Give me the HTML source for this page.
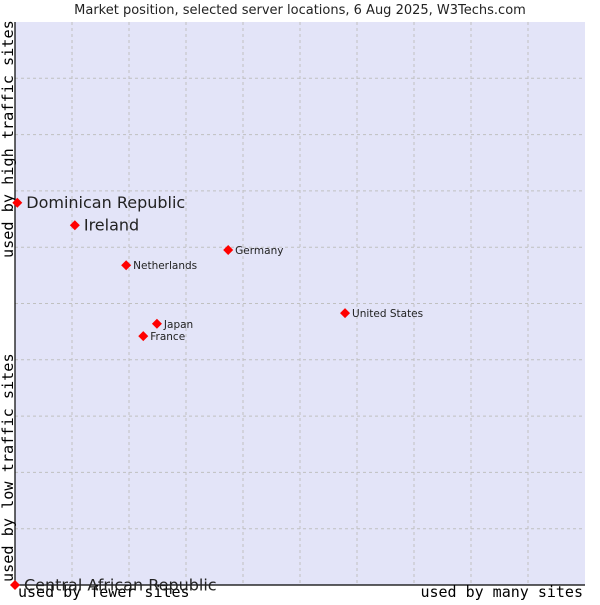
<!DOCTYPE html>
<html><head><meta charset="utf-8"><style>
body{margin:0;background:#fff;width:600px;height:600px;overflow:hidden}
svg text{font-family:"DejaVu Sans","Liberation Sans",sans-serif}
.mono{font-family:"DejaVu Sans Mono","Liberation Mono",monospace}
</style></head><body>
<svg id="chart" width="600" height="600" xmlns="http://www.w3.org/2000/svg">
<text x="300" y="14" text-anchor="middle" font-size="13" fill="#222">Market position, selected server locations, 6 Aug 2025, W3Techs.com</text>
<rect x="15" y="22" width="570" height="563" fill="#e3e4f8"/>
<g id="grid"></g>
<path d="M15 22V585H585" fill="none" stroke="#000" stroke-width="1.2"/>
<text class="mono" x="0" y="0" transform="translate(13,258) rotate(-90)" font-size="15.2" fill="#000">used by high traffic sites</text>
<text class="mono" x="0" y="0" transform="translate(13,582) rotate(-90)" font-size="15.2" fill="#000">used by low traffic sites</text>
<text class="mono" x="18" y="597" font-size="15" fill="#000">used by fewer sites</text>
<text class="mono" x="583" y="597" text-anchor="end" font-size="15" fill="#000">used by many sites</text>
<g id="points"></g>
</svg>
<script>
const countries=["Dominican Republic","Ireland","Netherlands","Germany","United States","Japan","France","Central African Republic"];
const xValues=[0.04,1.05,1.95,3.74,5.79,2.49,2.25,0];
const yValues=[6.79,6.39,5.68,5.95,4.83,4.64,4.42,0];
const bigLabel=[1,1,0,0,0,0,0,1];
const X0=15,X1=585,Y0=585,Y1=22;
function sx(v){return X0+(X1-X0)*v/10;}
function sy(v){return Y0-(Y0-Y1)*v/10;}
const NS="http://www.w3.org/2000/svg";
const grid=document.getElementById('grid');
for(let i=1;i<10;i++){
  const v=document.createElementNS(NS,'line');
  
  
  v.setAttribute('x1',sx(i));v.setAttribute('x2',sx(i));v.setAttribute('y1',Y1);v.setAttribute('y2',Y0);
  v.setAttribute('stroke','#c0c0c0');v.setAttribute('stroke-dasharray','3,3');
  grid.appendChild(v);
  const h=document.createElementNS(NS,'line');
  
  
  h.setAttribute('y1',sy(i));h.setAttribute('y2',sy(i));h.setAttribute('x1',X0);h.setAttribute('x2',X1);
  h.setAttribute('stroke','#c0c0c0');h.setAttribute('stroke-dasharray','3,3');
  grid.appendChild(h);
}
const pts=document.getElementById('points');
countries.forEach((c,i)=>{
  const x=sx(xValues[i]),y=sy(yValues[i]);
  const d=document.createElementNS(NS,'path');
  
  
  d.setAttribute('d',`M${x} ${y-5}L${x+5} ${y}L${x} ${y+5}L${x-5} ${y}Z`);
  d.setAttribute('fill','#f00');
  pts.appendChild(d);
  const t=document.createElementNS(NS,'text');
  
  
  const big=bigLabel[i];
  t.setAttribute('x',x+(big?9:7));
  t.setAttribute('y',y+(big?5.5:4));
  t.setAttribute('font-size',big?16:10.5);
  t.setAttribute('fill','#222');
  t.textContent=c;
  pts.appendChild(t);
});
</script>
</body></html>
